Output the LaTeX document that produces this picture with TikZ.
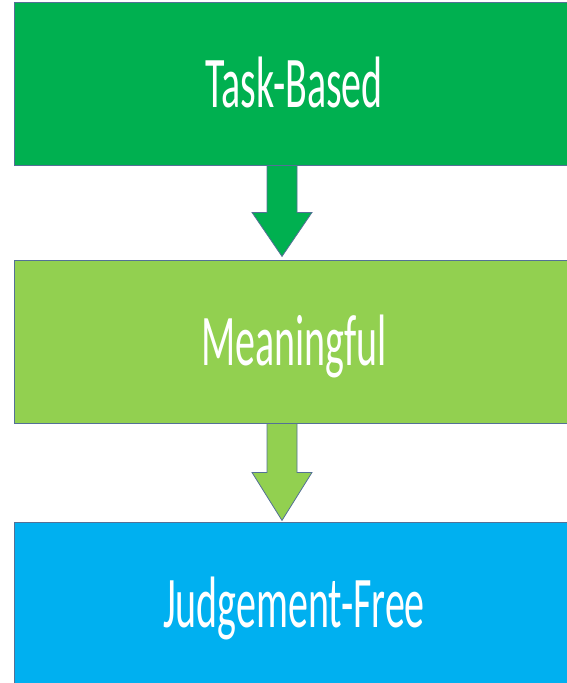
\documentclass[tikz,border=0pt]{standalone}
\usepackage{fontspec}
\setmainfont{Carlito}
\usetikzlibrary{calc}

\definecolor{taskgreen}{RGB}{0,176,80}
\definecolor{meangreen}{RGB}{146,208,80}
\definecolor{judgeblue}{RGB}{0,176,240}
\definecolor{edgeblue}{RGB}{84,112,150}

% tall, narrow lettering
\newcommand{\tallword}[1]{\scalebox{1}[1.82]{#1}}

\tikzset{
  stagebox/.style={draw=edgeblue, line width=0.6pt, fill=#1, rectangle,
    minimum width=420pt, minimum height=122.25pt, text=white,
    font=\fontsize{30}{36}\selectfont, text height=35.25pt, text depth=0pt},
  downarrow/.style={draw=edgeblue, line width=0.6pt, fill=#1}
}

\begin{document}
\begin{tikzpicture}[x=0.75pt, y=-0.75pt]
\useasboundingbox (0,0) rectangle (567,683);
\clip (0,0) rectangle (567,683);

\node[stagebox=taskgreen] (task) at (294,83.5) {\tallword{Task-Based}};
\node[stagebox=meangreen] (mean) at (294,341.5) {\tallword{Meaningful}};
\node[stagebox=judgeblue] (judge) at (294,603.5) {\tallword{Judgement-Free}};

% block arrows between the stages
\path[downarrow=taskgreen] ($(task.south)+(-27,0)$) -- ++(0,47) -- ++(-15,0)
  -- ++(30,44) -- ++(30,-44) -- ++(-15,0) -- ++(0,-47) -- cycle;
\path[downarrow=meangreen] ($(mean.south)+(-27,0)$) -- ++(0,49) -- ++(-15,0)
  -- ++(30,48) -- ++(30,-48) -- ++(-15,0) -- ++(0,-49) -- cycle;
\end{tikzpicture}
\end{document}
